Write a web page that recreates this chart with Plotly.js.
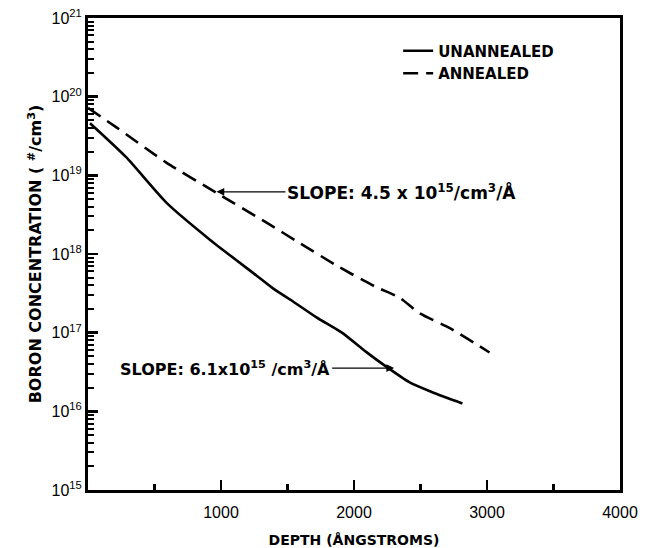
<!DOCTYPE html>
<html>
<head>
<meta charset="utf-8">
<script src="https://cdn.plot.ly/plotly-3.0.1.min.js"></script>
<style>body{margin:0;background:#fff}#plot{width:651px;height:548px}</style>
</head>
<body>
<div id="plot"></div>
<script>
// Unannealed (solid)
const unannealedDepth = [15, 287, 589, 921, 1268, 1396, 1525, 1721, 1909, 2091, 2242, 2415, 2589, 2815];
const unannealedConc  = [4.6e19, 1.7e19, 4.5e18, 1.5e18, 5.3e17, 3.6e17, 2.6e17, 1.55e17, 1.0e17, 5.7e16, 3.7e16, 2.35e16, 1.75e16, 1.26e16];
// Annealed (dashed)
const annealedDepth = [0, 211, 589, 966, 1343, 1585, 1890, 2166, 2340, 2491, 2717, 3019];
const annealedConc  = [7.2e19, 4.1e19, 1.45e19, 6.0e18, 2.5e18, 1.4e18, 6.8e17, 3.8e17, 2.8e17, 1.78e17, 1.15e17, 5.6e16];

const xTickVals = [1000, 2000, 3000, 4000];
const xTickText = ["1000", "2000", "3000", "4000"];
const yTickVals = [1e15, 1e16, 1e17, 1e18, 1e19, 1e20, 1e21];
const yTickText = ["10<sup>15</sup>", "10<sup>16</sup>", "10<sup>17</sup>", "10<sup>18</sup>", "10<sup>19</sup>", "10<sup>20</sup>", "10<sup>21</sup>"];
const yMinorMultipliers = [2, 3, 4, 5, 6, 7, 8, 9];

const yMinorVals = [];
for (let d = 15; d < 21; d++) for (const m of yMinorMultipliers) yMinorVals.push(m * Math.pow(10, d));

const FONT = "DejaVu Sans, Liberation Sans, sans-serif";
const TICKFONT = "Liberation Sans, Arial, sans-serif";

const traces = [
  {x: unannealedDepth, y: unannealedConc, mode: "lines", name: "<b>UNANNEALED</b>", yaxis: "y",
   line: {color: "#000", width: 2.6, shape: "spline", smoothing: 0.6}},
  {x: annealedDepth, y: annealedConc, mode: "lines", name: "<b>ANNEALED</b>", yaxis: "y2",
   line: {color: "#000", width: 2.6, dash: "15px,8px", shape: "spline", smoothing: 0.6}}
];

const layout = {
  width: 651, height: 548,
  margin: {l: 88, r: 31, t: 18, b: 58},
  paper_bgcolor: "#fff", plot_bgcolor: "#fff",
  font: {family: FONT, color: "#000", size: 14},
  showlegend: true,
  legend: {x: 0.583, y: 0.965, xanchor: "left", yanchor: "top",
           bgcolor: "rgba(0,0,0,0)", font: {size: 15, family: FONT}, tracegroupgap: 0},
  xaxis: {
    range: [0, 4000], showgrid: false, zeroline: false,
    showline: true, linecolor: "#000", linewidth: 3, mirror: true,
    ticks: "inside", ticklen: 10, tickwidth: 2.5, tickcolor: "#000",
    tickvals: xTickVals, ticktext: xTickText, ticklabelstandoff: 6,
    tickfont: {size: 16, family: TICKFONT},
    minor: {dtick: 500, ticks: "inside", ticklen: 6, tickwidth: 2.5, tickcolor: "#000", showgrid: false},
    title: {text: "<b>DEPTH (ÅNGSTROMS)</b>", font: {size: 14, family: FONT}, standoff: 16}
  },
  yaxis: {
    type: "log", range: [15, 21], showgrid: false, zeroline: false,
    showline: true, linecolor: "#000", linewidth: 3, mirror: true,
    ticks: "inside", ticklen: 10, tickwidth: 2.5, tickcolor: "#000",
    tickmode: "array", tickvals: yTickVals, ticktext: yTickText,
    tickfont: {size: 16, family: TICKFONT},
    title: {text: "<b>BORON CONCENTRATION ( <sup>#</sup>/cm<sup>3</sup>)</b>", font: {size: 16, family: FONT}, standoff: 6}
  },
  yaxis2: {
    type: "log", range: [15, 21], overlaying: "y", side: "left", anchor: "x",
    showgrid: false, zeroline: false, showline: false, showticklabels: false,
    ticks: "inside", ticklen: 6, tickwidth: 2, tickcolor: "#000",
    tickmode: "array", tickvals: yMinorVals
  },
  annotations: [
    {x: 966, y: 18.79, xref: "x", yref: "y", showarrow: true, arrowhead: 2, arrowsize: 1.2,
     arrowwidth: 1.3, arrowcolor: "#000", ax: 69, ay: 0, xanchor: "left",
     text: "<b>SLOPE: 4.5 x 10<sup>15</sup>/cm<sup>3</sup>/Å</b>", font: {size: 17, family: FONT}},
    {x: 2302, y: 16.55, xref: "x", yref: "y", showarrow: true, arrowhead: 2, arrowsize: 1.2,
     arrowwidth: 1.3, arrowcolor: "#000", ax: -62, ay: 0, xanchor: "right",
     text: "<b>SLOPE: 6.1x10<sup>15</sup> /cm<sup>3</sup>/Å</b>", font: {size: 16, family: FONT}}
  ]
};

Plotly.newPlot("plot", traces, layout, {displayModeBar: false, staticPlot: true});
</script>
</body>
</html>
